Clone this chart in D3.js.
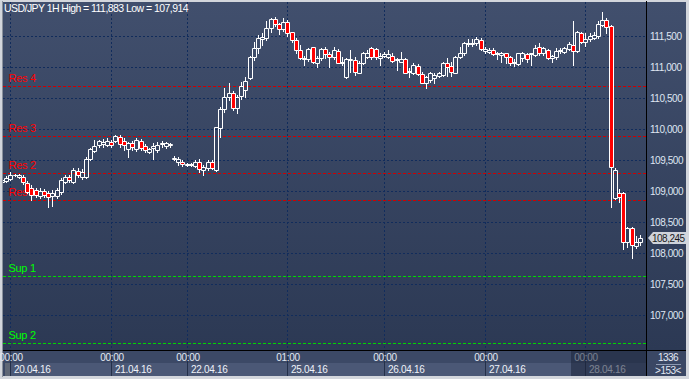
<!DOCTYPE html>
<html>
<head>
<meta charset="utf-8">
<script src="https://cdn.jsdelivr.net/npm/d3@7"></script>
<style>
html, body { margin: 0; padding: 0; background: #d3d6dc; }
svg { display: block; font-family: "Liberation Sans", Arial, sans-serif; }
</style>
</head>
<body>
<svg id="chart" width="689" height="379"></svg>
<script>
// USD/JPY 1H candles
var opens = [
  109.145,109.161,109.194,109.253,109.226,109.231,109.129,109.048,109.016,108.924,
  109.000,108.968,108.919,108.919,108.984,109.150,109.226,109.150,109.328,109.226,
  109.231,109.511,109.650,109.742,109.758,109.742,109.795,109.811,109.876,109.800,
  109.673,109.779,109.673,109.811,109.726,109.634,109.694,109.661,109.758,109.726,
  109.747,109.521,109.473,109.473,109.425,109.415,109.403,109.473,109.339,109.366,
  109.473,109.339,110.016,110.318,110.511,110.581,110.331,110.532,110.621,110.818,
  111.166,111.302,111.447,111.463,111.624,111.770,111.694,111.608,111.731,111.560,
  111.436,111.274,111.124,111.124,111.318,111.069,111.141,111.286,111.210,111.157,
  111.263,111.065,110.844,111.113,111.113,110.908,111.060,111.166,111.302,111.286,
  111.141,111.178,111.166,111.178,111.113,111.086,111.124,110.919,110.898,111.021,
  110.887,110.747,110.790,110.818,110.855,110.871,111.069,111.021,110.908,111.157,
  111.221,111.371,111.371,111.383,111.436,111.263,111.247,111.274,111.205,111.189,
  111.221,111.166,111.060,111.049,111.141,111.205,111.210,111.194,111.318,111.221,
  111.274,111.141,111.166,111.263,111.247,111.286,111.355,111.263,111.554,111.408,
  111.447,111.463,111.500,111.678,111.758,111.661,108.882,108.973,108.973,108.182,
  108.398,108.113,108.182
];
var highs = [
  109.194,109.242,109.311,109.274,109.274,109.258,109.161,109.097,109.048,109.048,
  109.032,109.000,109.016,109.048,109.210,109.258,109.258,109.371,109.371,109.355,
  109.548,109.689,109.823,109.823,109.834,109.850,109.823,109.903,109.903,109.850,
  109.795,109.806,109.850,109.839,109.758,109.689,109.769,109.795,109.811,109.795,
  109.769,109.565,109.544,109.500,109.452,109.447,109.492,109.511,109.420,109.500,
  109.500,110.037,110.355,110.657,110.737,110.605,110.549,110.758,110.839,111.178,
  111.408,111.516,111.554,111.747,111.786,111.802,111.715,111.786,111.758,111.570,
  111.463,111.355,111.178,111.302,111.328,111.178,111.302,111.328,111.247,111.328,
  111.286,111.157,111.141,111.274,111.166,111.102,111.247,111.274,111.318,111.302,
  111.221,111.247,111.274,111.221,111.141,111.247,111.141,110.979,111.069,111.049,
  110.924,110.855,110.924,110.898,110.924,111.086,111.141,111.086,111.178,111.328,
  111.408,111.447,111.447,111.479,111.463,111.318,111.302,111.302,111.247,111.247,
  111.231,111.178,111.124,111.231,111.242,111.221,111.231,111.355,111.383,111.328,
  111.286,111.194,111.302,111.302,111.328,111.408,111.747,111.586,111.570,111.544,
  111.544,111.570,111.747,111.883,111.786,111.678,109.366,109.027,108.989,108.424,
  108.424,108.274,108.291
];
var lows = [
  109.129,109.145,109.177,109.242,109.210,109.113,108.968,108.855,108.903,108.887,
  108.903,108.747,108.763,108.887,108.952,109.129,109.145,109.129,109.226,109.194,
  109.210,109.500,109.634,109.715,109.715,109.726,109.710,109.795,109.715,109.661,
  109.553,109.661,109.650,109.661,109.634,109.618,109.511,109.634,109.705,109.694,
  109.715,109.500,109.420,109.403,109.411,109.403,109.387,109.311,109.258,109.339,
  109.350,109.328,109.871,110.275,110.468,110.307,110.258,110.484,110.521,110.807,
  111.113,111.221,111.355,111.436,111.570,111.661,111.528,111.586,111.500,111.408,
  111.231,111.124,111.032,111.102,111.069,111.005,111.113,111.141,111.005,111.124,
  111.060,111.032,110.818,110.924,110.871,110.898,111.049,111.141,111.124,111.124,
  111.032,111.157,111.141,111.086,110.952,111.086,110.898,110.844,110.887,110.871,
  110.737,110.657,110.763,110.737,110.834,110.855,110.855,110.855,110.898,111.141,
  111.194,111.339,111.339,111.355,111.274,111.221,111.231,111.189,111.124,111.086,
  111.069,111.032,111.016,111.032,111.102,111.086,111.032,111.178,111.194,111.194,
  111.124,111.086,111.124,111.221,111.221,111.274,111.032,111.247,111.392,111.339,
  111.424,111.447,111.463,111.661,111.554,108.737,108.866,108.827,108.060,108.102,
  107.914,108.076,108.129
];
var closes = [
  109.177,109.210,109.258,109.263,109.258,109.145,108.984,108.935,108.935,109.005,
  108.935,108.903,108.968,109.016,109.177,109.226,109.177,109.339,109.258,109.306,
  109.521,109.673,109.726,109.811,109.795,109.811,109.742,109.887,109.758,109.742,
  109.779,109.705,109.823,109.689,109.661,109.673,109.726,109.742,109.769,109.769,
  109.758,109.532,109.516,109.431,109.436,109.431,109.473,109.355,109.392,109.473,
  109.366,110.028,110.323,110.511,110.576,110.334,110.524,110.694,110.779,111.166,
  111.302,111.463,111.489,111.624,111.770,111.694,111.608,111.731,111.554,111.436,
  111.274,111.141,111.141,111.286,111.081,111.141,111.286,111.210,111.157,111.274,
  111.069,111.076,111.124,111.129,110.924,111.069,111.231,111.231,111.166,111.166,
  111.178,111.210,111.210,111.102,111.124,111.124,110.908,110.931,111.032,110.887,
  110.747,110.834,110.898,110.871,110.898,111.069,111.005,110.924,111.157,111.231,
  111.383,111.392,111.380,111.447,111.286,111.286,111.274,111.205,111.221,111.231,
  111.157,111.060,111.086,111.221,111.221,111.124,111.221,111.302,111.221,111.312,
  111.141,111.178,111.263,111.274,111.302,111.371,111.263,111.570,111.408,111.447,
  111.500,111.516,111.694,111.758,111.650,109.382,109.339,108.898,108.182,108.398,
  108.129,108.182,108.245
];

var priceTicks = [107, 107.5, 108, 108.5, 109, 109.5, 110, 110.5, 111, 111.5];
var dayIndex = [2, 26, 44, 68, 91, 115, 139];
var timeLabels = ["00:00", "00:00", "00:00", "01:00", "00:00", "00:00", "00:00"];
var dateLabels = ["20.04.16", "21.04.16", "22.04.16", "25.04.16", "26.04.16", "27.04.16", "28.04.16"];
var levelNames = ["Res 4", "Res 3", "Res 2", "Res 1", "Sup 1", "Sup 2"];
var levelValues = [110.694, 109.883, 109.286, 108.850, 107.629, 106.544];
var lastPrice = 108.245;
var titleText = "USD/JPY 1H High = 111,883 Low = 107,914";

var svg = d3.select("#chart");
var W = 689, H = 379;
var plotL = 3, plotT = 2, plotR = 646, plotB = 350;

var x = d3.scaleLinear().domain([0, closes.length - 1]).range([3, 641]);
var y = d3.scaleLinear().domain([107, 111.5]).range([315, 36]);
var fmt = function(v) { return d3.format(".3f")(v).replace(".", ","); };

var defs = svg.append("defs");
var grad = defs.append("linearGradient").attr("id", "bg")
  .attr("x1", 0).attr("y1", 0).attr("x2", 0).attr("y2", 1);
grad.append("stop").attr("offset", "0%").attr("stop-color", "#414f6d");
grad.append("stop").attr("offset", "100%").attr("stop-color", "#2c3954");
defs.append("clipPath").attr("id", "plotclip").append("rect")
  .attr("x", plotL).attr("y", plotT).attr("width", plotR - plotL).attr("height", plotB - plotT);

// frame
svg.append("rect").attr("width", W).attr("height", H).attr("fill", "#d3d6dc");
svg.append("line").attr("x1", 2.5).attr("x2", 2.5).attr("y1", 1).attr("y2", 377)
  .attr("stroke", "#8a919c");
svg.append("rect").attr("x", plotL).attr("y", plotT).attr("width", plotR - plotL).attr("height", plotB - plotT)
  .attr("fill", "url(#bg)");
svg.append("rect").attr("x", 647).attr("y", plotT).attr("width", 39).attr("height", plotB - plotT)
  .attr("fill", "url(#bg)");

var plot = svg.append("g").attr("clip-path", "url(#plotclip)");

// grid
plot.selectAll("line.hgrid").data(priceTicks).enter().append("line")
  .attr("x1", plotL).attr("x2", plotR)
  .attr("y1", function(d) { return Math.round(y(d)) + 0.5; })
  .attr("y2", function(d) { return Math.round(y(d)) + 0.5; })
  .attr("stroke", "#112c5c").attr("stroke-dasharray", "2,2");
plot.selectAll("line.vgrid").data(dayIndex).enter().append("line")
  .attr("x1", function(d) { return Math.round(x(d)) - 0.5; })
  .attr("x2", function(d) { return Math.round(x(d)) - 0.5; })
  .attr("y1", plotT).attr("y2", plotB)
  .attr("stroke", "#112c5c").attr("stroke-dasharray", "2,2");

// support / resistance
var levels = plot.selectAll("g.level").data(levelValues).enter().append("g");
levels.append("line")
  .attr("x1", plotL).attr("x2", plotR)
  .attr("y1", function(d) { return Math.round(y(d)) + 0.5; })
  .attr("y2", function(d) { return Math.round(y(d)) + 0.5; })
  .attr("stroke", function(d, i) { return i < 4 ? "#d00000" : "#00d800"; })
  .attr("stroke-dasharray", "3,2");
levels.append("text")
  .attr("x", 8.5)
  .attr("y", function(d) { return Math.round(y(d)) - 4; })
  .attr("fill", function(d, i) { return i < 4 ? "#ff0000" : "#00ff00"; })
  .style("font-size", "11px").style("letter-spacing", "-0.3px")
  .text(function(d, i) { return levelNames[i]; });

// candles
var candles = plot.selectAll("g.candle").data(closes).enter().append("g");
candles.each(function(c, i) {
  var g = d3.select(this);
  var cx = Math.round(x(i));
  var top = Math.round(y(Math.max(opens[i], c))) + 0.5;
  var bot = Math.round(y(Math.min(opens[i], c))) + 0.5;
  var hi = Math.round(y(highs[i])), lo = Math.round(y(lows[i])) + 1;
  var wx = cx - 0.5;
  if (hi < top) g.append("line").attr("x1", wx).attr("x2", wx).attr("y1", hi).attr("y2", top)
    .attr("stroke", "#ffffff");
  if (lo > bot) g.append("line").attr("x1", wx).attr("x2", wx).attr("y1", bot).attr("y2", lo)
    .attr("stroke", "#ffffff");
  g.append("path")
    .attr("d", "M" + (cx - 2.5) + "," + top + "H" + (cx + 1.5) + "V" + bot + "H" + (cx - 2.5) + "Z")
    .attr("fill", c < opens[i] ? "#ff0000" : "none")
    .attr("stroke", "#ffffff");
});

// title
svg.append("text").attr("x", 4).attr("y", 12).attr("fill", "#ffffff")
  .style("font-size", "10.5px").style("letter-spacing", "-0.55px").text(titleText);

// separators
svg.append("line").attr("x1", 646.5).attr("x2", 646.5).attr("y1", 1).attr("y2", 376)
  .attr("stroke", "#000000");
svg.append("line").attr("x1", plotL).attr("x2", 686).attr("y1", 350.5).attr("y2", 350.5)
  .attr("stroke", "#000000");

// price axis labels
svg.selectAll("text.ylab").data(priceTicks).enter().append("text")
  .attr("x", 650).attr("y", function(d) { return Math.round(y(d)) + 4; })
  .attr("fill", "#dfe6f2").style("font-size", "10px").style("letter-spacing", "-0.45px")
  .text(fmt);

// last price tag
var ly = Math.round(y(lastPrice));
svg.append("path")
  .attr("d", "M648," + ly + "L653," + (ly - 6) + "H686V" + (ly + 6) + "H653Z")
  .attr("fill", "#cfd3da");
svg.append("text").attr("x", 652).attr("y", ly + 4).attr("fill", "#1a1a1a")
  .style("font-size", "10px").style("letter-spacing", "-0.5px").text(fmt(lastPrice));

// time axis
svg.append("rect").attr("x", plotL).attr("y", 351).attr("width", plotR - plotL).attr("height", 25)
  .attr("fill", "#3c4966");
var dayStarts = dayIndex.map(function(d) { return Math.round(x(d)) - 1; });
svg.selectAll("rect.day").data(dayStarts).enter().append("rect")
  .attr("x", function(d) { return d; })
  .attr("y", 363)
  .attr("width", function(d, i) { return (i < dayStarts.length - 1 ? dayStarts[i + 1] : plotR) - d; })
  .attr("height", 13)
  .attr("fill", "#4b5876");
svg.selectAll("line.dsep").data(dayStarts).enter().append("line")
  .attr("x1", function(d) { return d + 0.5; }).attr("x2", function(d) { return d + 0.5; })
  .attr("y1", 351).attr("y2", 376).attr("stroke", "#24304a");
svg.append("rect").attr("x", 5).attr("y", 363).attr("width", 5).attr("height", 13).attr("fill", "#5f6776");
svg.selectAll("text.time").data(dayIndex).enter().append("text")
  .attr("x", function(d) { return Math.round(x(d)); }).attr("y", 361)
  .attr("text-anchor", "middle").attr("fill", "#e3e9f3")
  .style("font-size", "10px").style("letter-spacing", "-0.3px")
  .text(function(d, i) { return timeLabels[i]; });
svg.selectAll("text.date").data(dayStarts).enter().append("text")
  .attr("x", function(d) { return d + 4; }).attr("y", 373)
  .attr("fill", "#eef2f8")
  .style("font-size", "10px").style("letter-spacing", "-0.3px")
  .text(function(d, i) { return dateLabels[i]; });
// current day shade
svg.append("rect").attr("x", 571).attr("y", 351).attr("width", plotR - 571).attr("height", 25)
  .attr("fill", "#1c253a").attr("fill-opacity", 0.55);

// corner box
svg.append("rect").attr("x", 647).attr("y", 351).attr("width", 39).attr("height", 25).attr("fill", "#3a4764");
svg.append("text").attr("x", 668).attr("y", 361).attr("text-anchor", "middle").attr("fill", "#e3e9f3")
  .style("font-size", "10px").style("letter-spacing", "-0.5px").text("1336");
svg.append("line").attr("x1", 656).attr("x2", 681).attr("y1", 364.5).attr("y2", 364.5).attr("stroke", "#8c98b0");
svg.append("text").attr("x", 668).attr("y", 374).attr("text-anchor", "middle").attr("fill", "#e3e9f3")
  .style("font-size", "10px").style("letter-spacing", "-0.5px").text(">" + closes.length + "<");
</script>
</body>
</html>
